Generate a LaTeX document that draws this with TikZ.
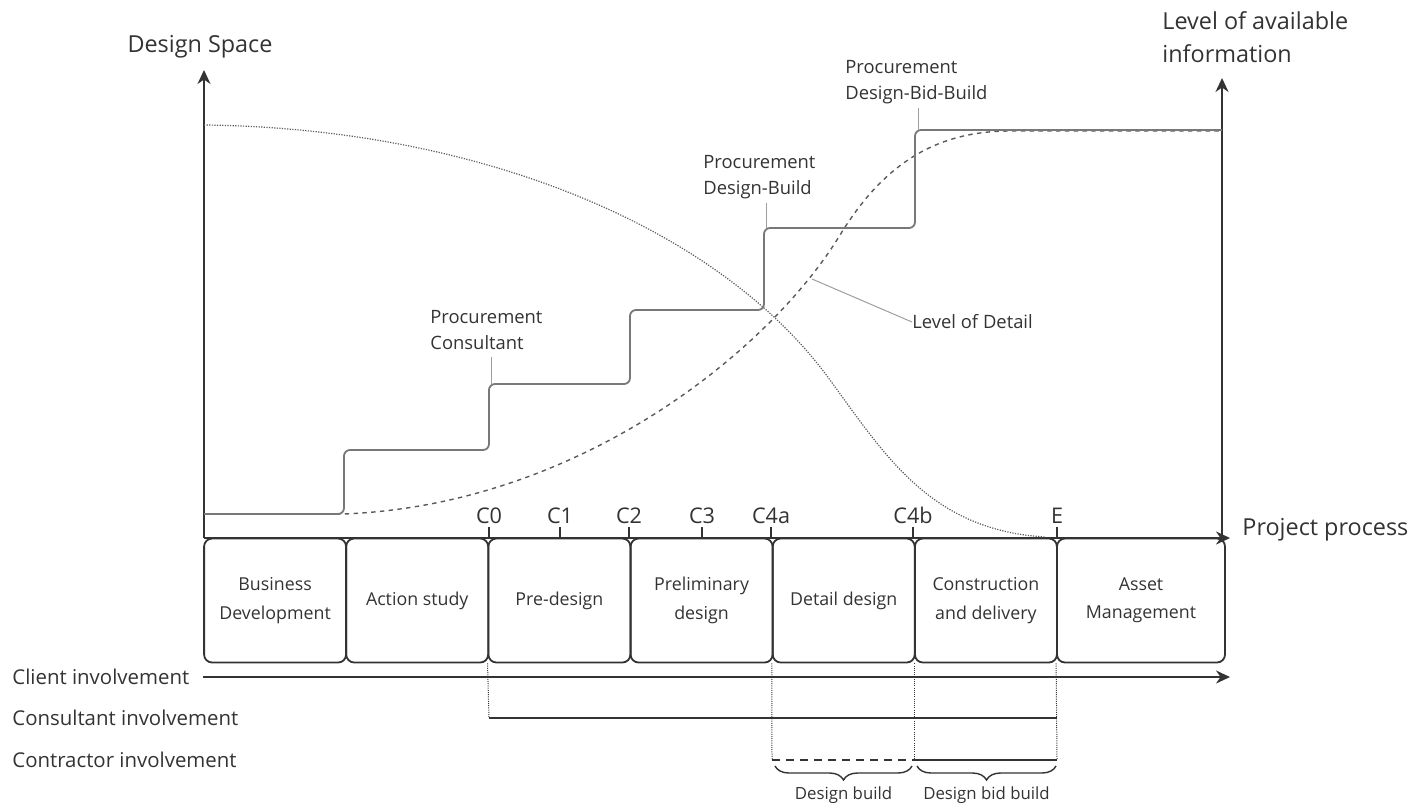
\documentclass[tikz,border=0pt]{standalone}
\usepackage{fontspec}
\setmainfont{Open Sans}
\usetikzlibrary{arrows.meta,decorations.pathreplacing}
\definecolor{inkgray}{HTML}{333333}
\definecolor{stepgray}{HTML}{787878}
\definecolor{curvegray}{HTML}{5A5A5A}
\definecolor{leadgray}{HTML}{9E9E9E}
\tikzset{
	axisline/.style={line width=1pt, draw=inkgray, -{Stealth[length=7pt,width=6.5pt]}},
	phasebox/.style={draw=inkgray, line width=0.9pt, rounded corners=4pt, minimum width=71pt, minimum height=62pt, inner sep=0pt, align=center, text=inkgray, font=\fontsize{8.9}{14.2}\selectfont},
	stepline/.style={line width=0.9pt, draw=stepgray, rounded corners=3pt},
	dscurve/.style={line width=0.6pt, draw=curvegray, dash pattern=on 0.6pt off 0.7pt},
	lodcurve/.style={line width=0.7pt, draw=curvegray, dash pattern=on 2.2pt off 2.2pt},
	leader/.style={line width=0.5pt, draw=leadgray},
	guide/.style={line width=0.5pt, draw=inkgray, dash pattern=on 0.5pt off 0.6pt},
	involve/.style={line width=0.9pt, draw=inkgray},
	axislabel/.style={text=inkgray, inner sep=0pt, align=left, font=\fontsize{11.7}{16.8}\selectfont},
	proclabel/.style={text=inkgray, inner sep=0pt, text depth=0pt, align=left, anchor=south west, font=\fontsize{9.2}{13.3}\selectfont},
	milestone/.style={text=inkgray, inner sep=1.5pt, anchor=south, font=\fontsize{10.8}{12}\selectfont},
	rowlabel/.style={text=inkgray, inner sep=0pt, anchor=west, font=\fontsize{10.2}{12}\selectfont},
	bracelabel/.style={text=inkgray, inner sep=0pt, font=\fontsize{8.4}{10}\selectfont},
	phasebrace/.style={decorate, decoration={brace, mirror, amplitude=7pt}, line width=0.7pt, draw=inkgray}
}

\begin{document}
\begin{tikzpicture}[x=0.5pt, y=-0.5pt]
			%%%%% START %%%%%
			\useasboundingbox (0, 0) rectangle (1427, 804);
			
			% phases
			\node[phasebox] (bd) at (275.1, 600.5) {Business\\Development};
			\node[phasebox] (as) at (417.2, 600.5) {Action study};
			\node[phasebox] (pd) at (559.4, 600.5) {Pre-design};
			\node[phasebox] (pr) at (701.6, 600.5) {Preliminary\\design};
			\node[phasebox] (dd) at (843.7, 600.5) {Detail design};
			\node[phasebox] (cd) at (985.9, 600.5) {Construction\\and delivery};
			\node[phasebox, minimum width=84pt] (am) at (1141, 600.5) {Asset\\Management};
			
			% axes
			\coordinate (origin) at (204, 538);
			\coordinate (dstop) at (204, 70);
			\coordinate (infobase) at (1222, 538);
			\coordinate (infotop) at (1222, 78);
			\coordinate (procend) at (1230, 538);
			\draw[axisline] (origin) -- (dstop);
			\draw[axisline] (infobase) -- (infotop);
			\draw[axisline] (origin) -- (procend);
			
			\node[axislabel] (dslabel) at (200, 47) {Design Space};
			\node[axislabel, anchor=west] (infolabel) at (1162, 37) {Level of available\\information};
			\node[axislabel, anchor=west] (proclabel) at (1242, 530) {Project process};
			
			% milestones
			\foreach \name/\xpos in {C0/489, C1/560, C2/629, C3/702, C4a/771, C4b/913, E/1057} {
				\coordinate (t\name) at (\xpos, 538);
				\node[milestone] (m\name) at (\xpos, 527) {\name};
				\draw[line width=0.6pt, draw=inkgray] (t\name) -- (m\name.south);
			}
			
			% design space
			\draw[dscurve] (204, 125) .. controls (480, 128) and (720, 228) .. (830, 380)
				.. controls (885, 455) and (930, 530) .. (1045, 537);
			
			% level of detail
			\draw[lodcurve] (204, 514) -- (343, 514) .. controls (580, 505) and (770, 350) .. (840, 235)
				.. controls (880, 170) and (930, 131) .. (1010, 131) -- (1222, 131);
			
			% level of available information
			\draw[stepline] (204, 514) -- (344, 514) -- (344, 450) -- (489, 450) -- (489, 384)
				-- (630, 384) -- (630, 310) -- (764, 310) -- (764, 228) -- (915, 228) -- (915, 130) -- (1222, 130);
			
			\coordinate (sc) at (491, 384);
			\coordinate (sdb) at (766, 228);
			\coordinate (sdbb) at (918, 130);
			\node[proclabel] (pcons) at (430, 350) {Procurement\\Consultant};
			\node[proclabel] (pdb) at (703, 195) {Procurement\\Design-Build};
			\node[proclabel] (pdbb) at (845, 100) {Procurement\\Design-Bid-Build};
			\draw[leader] (sc) -- ([yshift=-3.5pt]sc |- pcons.south);
			\draw[leader] (sdb) -- ([yshift=-4pt]sdb |- pdb.south);
			\draw[leader] (sdbb) -- ([yshift=-4pt]sdbb |- pdbb.south);
			
			\coordinate (lodpt) at (812, 279);
			\node[proclabel, anchor=west, text depth=] (lod) at (912, 322) {Level of Detail};
			\draw[leader] (lodpt) -- (lod.west);
			
			% involvement
			\node[rowlabel] (client) at (12, 677) {Client involvement};
			\node[rowlabel] (consult) at (12, 718) {Consultant involvement};
			\node[rowlabel] (contract) at (12, 760) {Contractor involvement};
			
			\coordinate (clstart) at (203, 677);
			\coordinate (clend) at (1230, 677);
			\draw[involve, -{Stealth[length=7pt,width=6.5pt]}] (clstart) -- (clend);
			
			\coordinate (cs0) at (489, 718);
			\coordinate (cs1) at (1057, 718);
			\draw[guide] (pd.south west) -- (cs0);
			\draw[involve] (cs0) -- (cs1);
			
			\coordinate (ct0) at (772, 760);
			\coordinate (ct1) at (914, 760);
			\coordinate (ct2) at (1057, 760);
			\draw[guide] (dd.south west) -- (ct0);
			\draw[guide] (cd.south west) -- (ct1);
			\draw[guide] (am.south west) -- (ct2);
			\draw[involve, dash pattern=on 4pt off 3pt] (ct0) -- (ct1);
			\draw[involve] (ct1) -- (ct2);
			
			\draw[phasebrace] (775, 766) -- (912, 766) node[midway, below=10pt, bracelabel] (dblabel) {Design build};
			\draw[phasebrace] (917, 766) -- (1056, 766) node[midway, below=10pt, bracelabel] (dbblabel) {Design bid build};
			
			%%%%% END %%%%%
\end{tikzpicture}
\end{document}
